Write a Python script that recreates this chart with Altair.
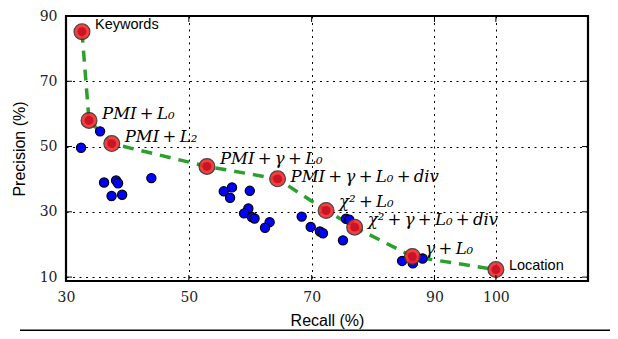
import altair as alt
import pandas as pd

# ---- data ----
T = "\u2009"  # thin space around '+' as in the math-set labels
red_labels = ["Keywords", f"PMI{T}+{T}L₀", f"PMI{T}+{T}L₂", f"PMI{T}+{T}γ{T}+{T}L₀",
              f"PMI{T}+{T}γ{T}+{T}L₀{T}+{T}div", f"χ²{T}+{T}L₀",
              f"χ²{T}+{T}γ{T}+{T}L₀{T}+{T}div", f"γ{T}+{T}L₀", "Location"]
red_recall = [32.6, 33.75, 37.45, 52.95, 64.45, 72.35, 77.0, 86.4, 100.0]
red_precision = [85.2, 58.0, 50.9, 43.9, 40.1, 30.4, 25.3, 16.3, 12.3]

blue_recall = [35.55, 32.45, 36.2, 38.16, 38.48, 37.42, 39.14, 43.9,
               55.69, 57.03, 56.72, 59.93, 59.69, 59.0, 60.26, 60.7,
               63.16, 62.41, 68.38, 69.85, 71.35, 71.84, 75.1, 75.6,
               76.13, 84.73, 86.48, 88.07]
blue_precision = [54.65, 49.64, 38.98, 39.58, 38.74, 34.83, 35.23, 40.33,
                  36.28, 37.48, 34.32, 36.43, 31.02, 29.52, 28.41, 27.96,
                  26.82, 25.11, 28.53, 25.38, 23.96, 23.42, 21.26, 27.87,
                  27.57, 14.95, 14.2, 15.71]

x_ticks = [30, 50, 70, 90, 100]
y_ticks = [10, 30, 50, 70, 90]

# ---- layout ----
W, H = 522, 265
XD = [30, 115]
YD = [8.8, 90]

red = pd.DataFrame({"recall": red_recall, "precision": red_precision,
                    "label": red_labels, "order": list(range(len(red_labels)))})
blue = pd.DataFrame({"recall": blue_recall, "precision": blue_precision})
xt = pd.DataFrame({"v": x_ticks})
yt = pd.DataFrame({"v": y_ticks})

xs = alt.Scale(domain=XD, nice=False, zero=False)
ys = alt.Scale(domain=YD, nice=False, zero=False)

X = alt.X("recall:Q", scale=xs, title="Recall (%)",
          axis=alt.Axis(values=x_ticks, grid=True, gridColor="black",
                        gridDash=[2, 4.5], gridWidth=1, gridOpacity=1,
                        ticks=False, domain=False, labelFlush=False,
                        labelFont="DejaVu Serif",
                        labelFontSize=14, labelColor="#222", labelPadding=9,
                        titleFont="Liberation Sans", titleFontSize=16,
                        titleFontWeight="normal", titleColor="black",
                        titlePadding=8))
Y = alt.Y("precision:Q", scale=ys, title="Precision (%)",
          axis=alt.Axis(values=y_ticks, grid=True, gridColor="black",
                        gridDash=[2, 4.5], gridWidth=1, gridOpacity=1,
                        ticks=False, domain=False, labelFlush=False,
                        labelFont="DejaVu Serif",
                        labelFontSize=14, labelColor="#222", labelPadding=9,
                        titleFont="Liberation Sans", titleFontSize=16,
                        titleFontWeight="normal", titleColor="black",
                        titlePadding=12))

line = alt.Chart(red).mark_line(color="#2ca02c", strokeWidth=3.5,
                                strokeDash=[11, 8]).encode(
    x=X, y=Y, order="order:Q")

bluepts = alt.Chart(blue).mark_circle(size=85, color="#0000ff", opacity=1,
                                      stroke="black", strokeWidth=1.2).encode(
    x=alt.X("recall:Q", scale=xs), y=alt.Y("precision:Q", scale=ys))

red_outer = alt.Chart(red).mark_circle(size=250, color="#f42a2a", opacity=0.9,
                                       stroke="#333", strokeWidth=1.2).encode(
    x=alt.X("recall:Q", scale=xs), y=alt.Y("precision:Q", scale=ys))
red_inner = alt.Chart(red).mark_circle(size=80, color="#c80f25", opacity=0.9).encode(
    x=alt.X("recall:Q", scale=xs), y=alt.Y("precision:Q", scale=ys))

# label offsets (layout only)
label_dy = [-7, -6, -7, -7, -2, -9, -7, -8, -4]
text_layers = []
for i, lab in enumerate(red_labels):
    sans = lab in ("Keywords", "Location")
    t = alt.Chart(red[red["label"] == lab]).mark_text(
        align="left", baseline="middle", dx=13, dy=label_dy[i],
        font="Liberation Sans" if sans else "DejaVu Serif",
        fontStyle="normal" if sans else "italic",
        fontSize=14.5 if sans else 16.5, color="black").encode(
        x=alt.X("recall:Q", scale=xs), y=alt.Y("precision:Q", scale=ys),
        text="label:N")
    text_layers.append(t)

# inward tick marks on all four sides
tk = dict(color="black", strokeWidth=1)
xb = alt.Chart(xt).mark_rule(**tk).encode(x=alt.X("v:Q", scale=xs),
                                          y=alt.value(H), y2=alt.value(H - 6))
xtop = alt.Chart(xt).mark_rule(**tk).encode(x=alt.X("v:Q", scale=xs),
                                            y=alt.value(0), y2=alt.value(6))
yl = alt.Chart(yt).mark_rule(**tk).encode(y=alt.Y("v:Q", scale=ys),
                                          x=alt.value(0), x2=alt.value(6))
yr = alt.Chart(yt).mark_rule(**tk).encode(y=alt.Y("v:Q", scale=ys),
                                          x=alt.value(W), x2=alt.value(W - 6))

# plot frame
frame = alt.Chart(xt.head(1)).mark_rect(filled=False, stroke="black",
                                        strokeWidth=2.2).encode(
    x=alt.value(0), x2=alt.value(W), y=alt.value(0), y2=alt.value(H))

# page rule under the figure
page_rule = alt.Chart(xt.head(1)).mark_rule(color="black", strokeWidth=3,
                                            clip=False).encode(
    x=alt.value(-46), x2=alt.value(W + 30), y=alt.value(H + 50))

chart = alt.layer(line, bluepts, red_outer, red_inner, *text_layers,
                  xb, xtop, yl, yr, frame, page_rule).properties(
    width=W, height=H,
    autosize=alt.AutoSizeParams(type="none"),
    padding={"left": 58, "top": 8, "right": 22, "bottom": 50},
).configure_view(stroke=None).configure(background="white")

chart.save("out.html", embed_options={"renderer": "svg", "actions": False})
